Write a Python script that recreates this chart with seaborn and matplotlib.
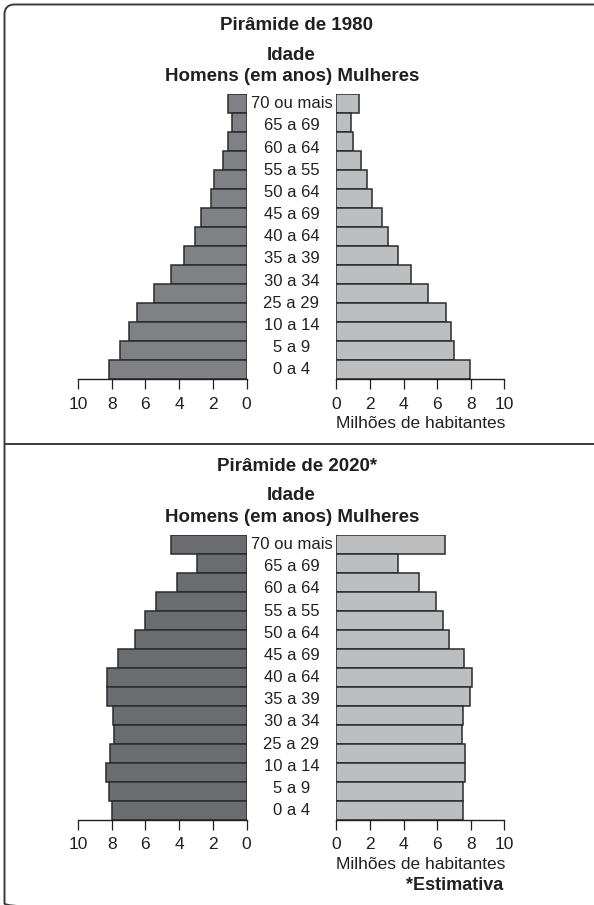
import numpy as np
import pandas as pd
import seaborn as sns
import matplotlib.pyplot as plt
from matplotlib.patches import FancyBboxPatch

# bars from the top (oldest) to the bottom (youngest)
men_1980 = [1.1, 0.85, 1.1, 1.4, 1.9, 2.1, 2.7, 3.05, 3.7, 4.5, 5.5, 6.5, 7.0, 7.5, 8.15]
women_1980 = [1.35, 0.85, 1.0, 1.45, 1.8, 2.1, 2.7, 3.05, 3.7, 4.45, 5.45, 6.55, 6.8, 7.0, 7.95]
men_2020 = [4.5, 2.95, 4.1, 5.35, 6.05, 6.6, 7.6, 8.3, 8.25, 7.9, 7.85, 8.1, 8.35, 8.15, 8.0]
women_2020 = [6.45, 3.7, 4.9, 5.95, 6.35, 6.7, 7.6, 8.1, 7.95, 7.55, 7.5, 7.65, 7.65, 7.55, 7.55]

age_labels = ["70 ou mais", "65 a 69", "60 a 64", "55 a 55", "50 a 64", "45 a 69",
              "40 a 64", "35 a 39", "30 a 34", "25 a 29", "10 a 14", "5 a 9", "0 a 4"]
ticks = [0, 2, 4, 6, 8, 10]

sns.set_theme(style="white")
plt.rcParams['font.family'] = ['Liberation Sans', 'DejaVu Sans']
txt = '#231f20'
edge = '#2b2b2b'

W, H = 594, 905
fig = plt.figure(figsize=(W / 100, H / 100), dpi=100)


def box(x0, y0, x1, y1):
    return [x0 / W, 1 - y1 / H, (x1 - x0) / W, (y1 - y0) / H]


# frame
bg = fig.add_axes([0, 0, 1, 1])
bg.set_xlim(0, W)
bg.set_ylim(H, 0)
bg.axis('off')
bg.add_patch(FancyBboxPatch((4.5, 4.5), W + 30, H + 4, boxstyle='round,pad=0,rounding_size=10',
                            fill=False, ec='#3a3a3a', lw=1.4))
bg.plot([4.5, W], [443.5, 443.5], color='#3a3a3a', lw=1.4)


def style_axis(ax):
    sns.despine(ax=ax, left=True)
    ax.spines['bottom'].set_color(txt)
    ax.spines['bottom'].set_linewidth(1.0)
    ax.set_yticks([])
    ax.set_ylabel('')
    ax.set_xlabel('')
    ax.set_ylim(14.5, -0.5)
    ax.set_xticks(ticks)
    ax.tick_params(axis='x', bottom=True, direction='out', length=7.5, width=0.9,
                   color=txt, labelcolor=txt, labelsize=12.5, pad=5)
    ax.patch.set_alpha(0)


def pyramid(top, men, women, men_color, title):
    df = pd.DataFrame({'grupo': range(15), 'homens': men, 'mulheres': women})
    ax_m = fig.add_axes(box(78, top, 246.5, top + 285))
    sns.barplot(data=df, x='homens', y='grupo', orient='h', width=1, color=men_color,
                saturation=1, edgecolor=edge, linewidth=1.1, ax=ax_m)
    style_axis(ax_m)
    ax_m.set_xlim(10, 0)

    ax_w = fig.add_axes(box(336.3, top, 504.3, top + 285))
    sns.barplot(data=df, x='mulheres', y='grupo', orient='h', width=1, color='#bcbec0',
                saturation=1, edgecolor=edge, linewidth=1.1, ax=ax_w)
    style_axis(ax_w)
    ax_w.set_xlim(0, 10)
    ax_w.set_xlabel('Milhões de habitantes', fontsize=12.5, color=txt, labelpad=3)

    ax_c = fig.add_axes(box(246.5, top, 336.3, top + 285))
    ax_c.set_ylim(14.5, -0.5)
    ax_c.set_xlim(0, 1)
    ax_c.axis('off')
    for pos, lab in zip(np.linspace(0, 14, len(age_labels)), age_labels):
        ax_c.text(0.5, pos, lab, ha='center', va='center', fontsize=12, color=txt)

    fig.text(297 / W, 1 - (top - 69) / H, title, ha='center', va='center',
             fontsize=13.5, fontweight='bold', color=txt)
    fig.text(291 / W, 1 - (top - 39) / H, 'Idade', ha='center', va='center',
             fontsize=13.5, fontweight='bold', color=txt)
    fig.text(292 / W, 1 - (top - 18) / H, 'Homens (em anos) Mulheres', ha='center', va='center',
             fontsize=13.5, fontweight='bold', color=txt)


pyramid(94.3, men_1980, women_1980, '#808184', 'Pirâmide de 1980')
pyramid(535, men_2020, women_2020, '#6b6c70', 'Pirâmide de 2020*')

fig.text(503 / W, 1 - 885 / H, '*Estimativa', ha='right', va='center',
         fontsize=13, fontweight='bold', color=txt)

fig.savefig('out.png', dpi=100)
